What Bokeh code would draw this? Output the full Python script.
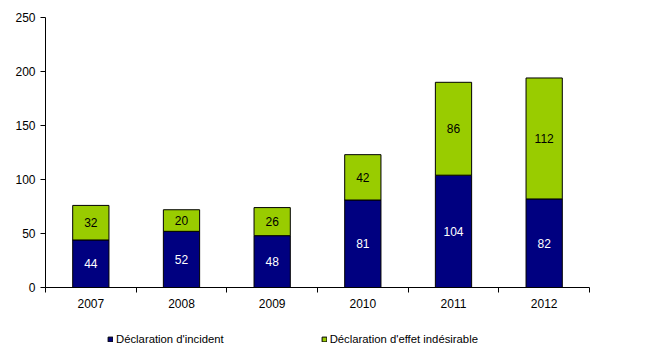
from bokeh.plotting import figure
from bokeh.layouts import column
from bokeh.models import ColumnDataSource, FixedTicker, Legend, LegendItem, Range1d
from bokeh.core.properties import value
from bokeh.embed import file_html
from bokeh.resources import INLINE

years = ["2007", "2008", "2009", "2010", "2011", "2012"]
incident = [44, 52, 48, 81, 104, 82]
effet = [32, 20, 26, 42, 86, 112]
y_ticks = [0, 50, 100, 150, 200, 250]
series_names = ["Déclaration d'incident", "Déclaration d'effet indésirable"]

NAVY = "#000080"
GREEN = "#99CC00"
FONT = "Liberation Sans"

n = len(years)
xs = [i + 1 for i in range(n)]
total = [a + b for a, b in zip(incident, effet)]
src = ColumnDataSource(dict(
    x=xs, inc=incident, eff=effet, tot=total,
    inc_mid=[a / 2 for a in incident],
    eff_mid=[a + b / 2 for a, b in zip(incident, effet)],
    inc_lbl=[str(v) for v in incident],
    eff_lbl=[str(v) for v in effet],
))

p = figure(width=668, height=320, output_backend="svg", toolbar_location=None,
           x_range=Range1d(0.5, n + 0.5), y_range=Range1d(0, 250),
           min_border_left=45, min_border_right=79, min_border_top=17, min_border_bottom=33)
p.outline_line_color = None
p.xgrid.visible = False
p.ygrid.visible = False
p.background_fill_color = "white"
p.border_fill_color = "white"

p.vbar(x="x", bottom=0, top="inc", width=0.4, source=src,
       fill_color=NAVY, line_color="black", line_width=1)
p.vbar(x="x", bottom="inc", top="tot", width=0.4, source=src,
       fill_color=GREEN, line_color="black", line_width=1)

p.text(x="x", y="inc_mid", text="inc_lbl", source=src, text_align="center",
       text_baseline="middle", text_color="white", text_font=value(FONT),
       text_font_size="12px")
p.text(x="x", y="eff_mid", text="eff_lbl", source=src, text_align="center",
       text_baseline="middle", text_color="black", text_font=value(FONT),
       text_font_size="12px")

# y axis
ya = p.yaxis[0]
ya.ticker = FixedTicker(ticks=y_ticks)
ya.axis_line_color = "black"
ya.major_tick_line_color = "black"
ya.major_tick_out = 5
ya.major_tick_in = 0
ya.minor_tick_line_color = None
ya.major_label_text_font = FONT
ya.major_label_text_font_size = "12px"
ya.major_label_text_color = "black"
ya.major_label_standoff = 5

# x axis
xa = p.xaxis[0]
xa.ticker = FixedTicker(ticks=xs, minor_ticks=[i + 0.5 for i in range(n + 1)])
xa.major_label_overrides = {x: y for x, y in zip(xs, years)}
xa.axis_line_color = "black"
xa.major_tick_line_color = None
xa.major_tick_out = 5
xa.major_tick_in = 0
xa.minor_tick_line_color = "black"
xa.minor_tick_out = 5
xa.minor_tick_in = 0
xa.major_label_text_font = FONT
xa.major_label_text_font_size = "12px"
xa.major_label_text_color = "black"
xa.major_label_standoff = 6

# legend strip: proxy renderers placed far outside the strip's visible range
p2 = figure(width=668, height=37, output_backend="svg", toolbar_location=None,
            x_axis_location=None, y_axis_location=None,
            x_range=Range1d(0, 1), y_range=Range1d(0, 1),
            min_border=0)
p2.outline_line_color = None
p2.xgrid.visible = False
p2.ygrid.visible = False
p2.border_fill_color = "white"
p2.background_fill_color = "white"
proxy = ColumnDataSource(dict(x=[-50], bottom=[-50], top=[-49]))
l1 = p2.vbar(x="x", bottom="bottom", top="top", width=0.1, source=proxy,
             fill_color=NAVY, line_color="black", line_width=1)
l2 = p2.vbar(x="x", bottom="bottom", top="top", width=0.1, source=proxy,
             fill_color=GREEN, line_color="black", line_width=1)

legend = Legend(items=[LegendItem(label=series_names[0], renderers=[l1]),
                       LegendItem(label=series_names[1], renderers=[l2])],
                location=(62, 12), orientation="horizontal",
                glyph_width=6, glyph_height=6, label_standoff=3,
                padding=0, margin=0, spacing=97,
                border_line_color=None, background_fill_alpha=0,
                label_text_font=FONT, label_text_font_size="11.3px",
                label_text_color="black", label_height=11)
p2.add_layout(legend, "center")

open("out.html", "w").write(file_html(column(p, p2, spacing=0), INLINE))
